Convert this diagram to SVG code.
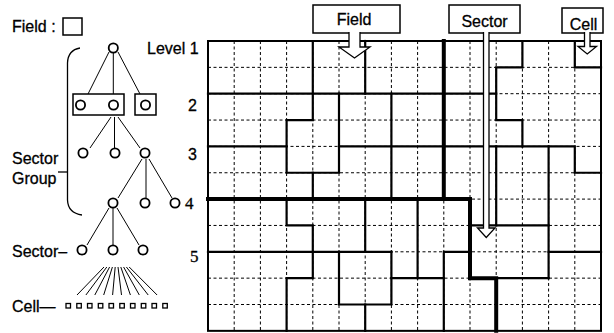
<svg xmlns="http://www.w3.org/2000/svg" width="614" height="333" viewBox="0 0 614 333">
<style>
text{font-family:"Liberation Sans",Arial,sans-serif;font-size:16px;fill:#000;stroke:#000;stroke-width:0.3}
.serif{font-family:"Liberation Serif","Times New Roman",serif;font-size:17px}
.dash{stroke:#000;stroke-width:1;stroke-dasharray:3 2.5;fill:none}
.reg{stroke:#000;stroke-width:2.2;fill:none;stroke-linecap:square}
.fld{stroke:#000;stroke-width:4;fill:none;stroke-linecap:square}
.brd{stroke:#000;stroke-width:2;fill:none}
.node{fill:#fff;stroke:#000;stroke-width:1.8}
.edge{stroke:#000;stroke-width:1;fill:none}
.box{fill:#fff;stroke:#000;stroke-width:1.5}
.arrow{fill:#fff;stroke:#000;stroke-width:1.3}
.cell{fill:#fff;stroke:#000;stroke-width:1.3}
</style>

<!-- Legend -->
<g id="legend-field">
<text x="12" y="32">Field :</text>
<rect class="box" x="63" y="18" width="19" height="17"/>
</g>

<!-- Sector group bracket -->
<g id="bracket">
<path class="edge" style="stroke-width:1.3" d="M80,48 Q68,50 67.5,63 V200 Q68,213 82,215"/>
<path class="edge" style="stroke-width:1.3" d="M58,172 H67.5"/>
<text x="12" y="164">Sector</text>
<text x="12" y="184">Group</text>
</g>

<!-- Tree connectors -->
<g id="tree-edges">
<path class="edge" d="M109,52 L88,94 M113.3,53 V94 M118,52 L140,94"/>
<path class="edge" d="M111,117 L90,148 M114.5,117 V148 M118,117 L140,148"/>
<path class="edge" d="M142,159 L118,198 M146,159 V198 M149,159 L172,198"/>
<path class="edge" d="M109,208 L87,245 M113,208 V245 M117,208 L139,245"/>
<path class="edge" d="M104,267 L77,295 M106.8,267 L85.9,295 M109.6,267 L94.8,295 M112.4,267 L103.7,295 M115.2,267 L112.6,295 M118,267 L121.5,295 M120.8,267 L130.4,295 M123.6,267 L139.3,295 M126.4,267 L148.2,295 M129.2,267 L157.1,295"/>
</g>

<g id="level1">
<circle class="node" cx="113.3" cy="48" r="4.6"/>
<text x="147" y="54">Level 1</text>
</g>
<g id="level2">
<rect class="box" x="73" y="94" width="51" height="21"/>
<rect class="box" x="135" y="94" width="21" height="21"/>
<circle class="node" cx="80.5" cy="105" r="4.6"/>
<circle class="node" cx="113.5" cy="105" r="4.6"/>
<circle class="node" cx="145.5" cy="105" r="4.6"/>
<text x="188" y="111">2</text>
</g>
<g id="level3">
<circle class="node" cx="83" cy="153" r="4.6"/>
<circle class="node" cx="115" cy="153" r="4.6"/>
<circle class="node" cx="145" cy="153" r="4.6"/>
<text x="188" y="160">3</text>
</g>
<g id="level4">
<circle class="node" cx="113" cy="203" r="4.6"/>
<circle class="node" cx="145" cy="203" r="4.6"/>
<circle class="node" cx="175" cy="203" r="4.6"/>
<text class="serif" x="185" y="209">4</text>
</g>
<g id="level5">
<text x="12" y="257">Sector–</text>
<circle class="node" cx="82" cy="250" r="4.6"/>
<circle class="node" cx="113" cy="250" r="4.6"/>
<circle class="node" cx="143" cy="250" r="4.6"/>
<text class="serif" x="190" y="262">5</text>
</g>
<g id="cells">
<text x="12" y="312">Cell—</text>
<rect class="cell" x="66" y="303.5" width="4.5" height="4.5"/>
<rect class="cell" x="76.8" y="303.5" width="4.5" height="4.5"/>
<rect class="cell" x="87.5" y="303.5" width="4.5" height="4.5"/>
<rect class="cell" x="98.3" y="303.5" width="4.5" height="4.5"/>
<rect class="cell" x="109" y="303.5" width="4.5" height="4.5"/>
<rect class="cell" x="119.8" y="303.5" width="4.5" height="4.5"/>
<rect class="cell" x="130.5" y="303.5" width="4.5" height="4.5"/>
<rect class="cell" x="141.3" y="303.5" width="4.5" height="4.5"/>
<rect class="cell" x="152" y="303.5" width="4.5" height="4.5"/>
<rect class="cell" x="162.8" y="303.5" width="4.5" height="4.5"/>
</g>

<!-- Grid map -->
<g id="grid">
<path class="dash" d="M234.2,41 V330.85 M260.4,41 V330.85 M286.6,41 V330.85 M312.8,41 V330.85 M339,41 V330.85 M365.2,41 V330.85 M391.4,41 V330.85 M417.6,41 V330.85 M443.8,41 V330.85 M470,41 V330.85 M496.2,41 V330.85 M522.4,41 V330.85 M548.6,41 V330.85 M574.8,41 V330.85"/>
<path class="dash" d="M208,67.35 H601 M208,93.7 H601 M208,120.05 H601 M208,146.4 H601 M208,172.75 H601 M208,199.1 H601 M208,225.45 H601 M208,251.8 H601 M208,278.15 H601 M208,304.5 H601"/>
</g>

<g id="connectors">
<!-- sector boundaries -->
<path class="reg" d="M312.8,41 V120.05 H286.6 V172.75 H339 V93.7"/>
<path class="reg" d="M312.8,172.75 V199.1"/>
<path class="reg" d="M208,93.7 H496.2"/>
<path class="reg" d="M365.2,41 V93.7"/>
<path class="reg" d="M208,146.4 H286.6"/>
<path class="reg" d="M339,146.4 H574.8 V172.75 H601"/>
<path class="reg" d="M391.4,93.7 V199.1"/>
<path class="reg" d="M522.4,41 V67.35 H496.2 V120.05 H522.4 V146.4"/>
<path class="reg" d="M574.8,41 V67.35 H601"/>
<path class="reg" d="M496.2,146.4 V225.45"/>
<path class="reg" d="M470,225.45 H548.6"/>
<path class="reg" d="M548.6,146.4 V278.15"/>
<path class="reg" d="M548.6,251.8 H601"/>
<path class="reg" d="M496.2,278.15 H548.6"/>
<path class="reg" d="M286.6,199.1 V225.45 H312.8 V278.15 H286.6 V330.85"/>
<path class="reg" d="M208,251.8 H391.4"/>
<path class="reg" d="M365.2,199.1 V251.8"/>
<path class="reg" d="M339,251.8 V304.5 H391.4 V251.8"/>
<path class="reg" d="M391.4,278.15 H443.8"/>
<path class="reg" d="M417.6,199.1 V278.15"/>
<path class="reg" d="M443.8,330.85 V251.8 H470"/>
<path class="reg" d="M365.2,304.5 V330.85"/>
<!-- field boundaries -->
<path class="fld" d="M443.8,41 V199.1"/>
<path class="fld" d="M208,199.1 H470 V278.15 H496.2 V330.85"/>
<!-- outer border -->
<rect class="brd" x="208" y="41" width="393" height="289.85"/>
</g>

<!-- Callouts -->
<g id="callout-field">
<rect class="box" x="313" y="5" width="87" height="28"/>
<text x="354" y="25" text-anchor="middle">Field</text>
<path class="arrow" d="M349,32 V47 H339 L354.5,58 L370,47 H360 V32"/>
</g>
<g id="callout-sector">
<rect class="box" x="449" y="5" width="71" height="28"/>
<text x="484.5" y="26.5" text-anchor="middle">Sector</text>
<path class="arrow" d="M483.5,32 V228 H477.5 L486.25,237.5 L495,228 H489 V32"/>
</g>
<g id="callout-cell">
<rect class="box" x="562" y="8" width="41" height="25"/>
<text x="583.5" y="29.5" text-anchor="middle">Cell</text>
<path class="arrow" d="M584.5,32 V46.5 H578 L587.25,54 L596.5,46.5 H590 V32"/>
</g>
</svg>
